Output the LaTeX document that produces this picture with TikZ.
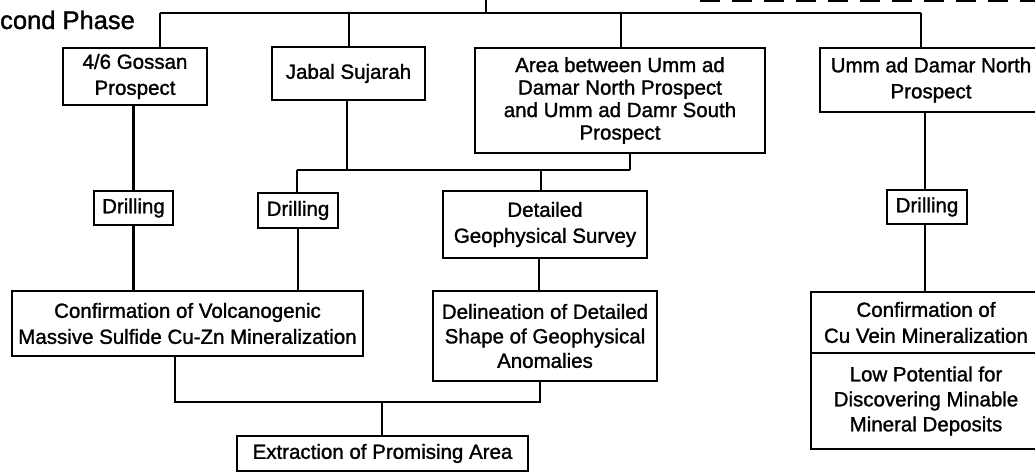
\documentclass[tikz,border=0pt]{standalone}
\usepackage{fontspec}
\setmainfont{Liberation Sans}[BoldFont=Liberation Sans, BoldFeatures={FakeBold=1.3}]
\begin{document}
\begin{tikzpicture}[x=1pt,y=-1pt,
  box/.style={draw, line width=2.7pt, inner sep=0pt, align=center, fill=white,
    font=\fontsize{20.5}{26}\selectfont\bfseries},
  conn/.style={line width=2.5pt},
  dashline/.style={line width=2.5pt, dash pattern=on 20pt off 12pt}]
\useasboundingbox (0,0) rectangle (1035,472);
\clip (0,0) rectangle (1035,472);
\fill[white] (0,0) rectangle (1035,472);

% title
\node[anchor=base west, inner sep=0pt, font=\fontsize{25.5}{25.5}\selectfont\bfseries] (phase) at (0,29) {cond Phase};

% first row
\node[box, minimum width=144pt, minimum height=57pt] (gossan) at (135,76.5) {4/6 Gossan\\Prospect};
\node[box, minimum width=153pt, minimum height=53pt] (jabal) at (348.5,73.5) {Jabal Sujarah};
\node[box, minimum width=290pt, minimum height=105pt, font=\fontsize{20.5}{22.5}\selectfont\bfseries] (area) at (620,100.5)
  {Area between Umm ad\\Damar North Prospect\\and Umm ad Damr South\\Prospect};
\node[box, minimum width=222pt, minimum height=64pt] (umn) at (931,80) {Umm ad Damar North\\Prospect};

% second row
\node[box, minimum width=79pt, minimum height=34pt] (dr1) at (133.5,208) {Drilling};
\node[box, minimum width=80pt, minimum height=35pt] (dr2) at (298,210.5) {Drilling};
\node[box, minimum width=204pt, minimum height=67pt] (det) at (545,224.5) {Detailed\\Geophysical Survey};
\node[box, minimum width=80pt, minimum height=34pt] (dr3) at (927,207) {Drilling};

% third row
\node[box, minimum width=351pt, minimum height=65pt] (conf) at (187.5,323.5)
  {Confirmation of Volcanogenic\\Massive Sulfide Cu-Zn Mineralization};
\node[box, minimum width=224pt, minimum height=90pt, font=\fontsize{20.5}{24.5}\selectfont\bfseries] (del) at (545,336)
  {Delineation of Detailed\\Shape of Geophysical\\Anomalies};
\node[box, minimum width=230pt, minimum height=61pt] (cu) at (926,322.5) {Confirmation of\\Cu Vein Mineralization};
\node[box, minimum width=230pt, minimum height=96pt, font=\fontsize{20.5}{25}\selectfont\bfseries] (low) at (926,401)
  {Low Potential for\\Discovering Minable\\Mineral Deposits};

% bottom
\node[box, minimum width=291pt, minimum height=35pt] (ext) at (382.5,453.5) {Extraction of Promising Area};

% top connectors
\coordinate (t0) at (486,0);
\coordinate (tb) at (486,13);
\coordinate (bL) at (160,13);
\coordinate (bJ) at (349,13);
\coordinate (bA) at (621,13);
\coordinate (bR) at (921,13);
\coordinate (d0) at (700,0.5);
\coordinate (d1) at (1040,0.5);
\draw[dashline] (d0) -- (d1);
\draw[conn] (t0) -- (tb);
\draw[conn] (bL) -- (bR);
\draw[conn] (bL) -- (bL |- gossan.north);
\draw[conn] (bJ) -- (bJ |- jabal.north);
\draw[conn] (bA) -- (bA |- area.north);
\draw[conn] (bR) -- (bR |- umn.north);

% left column
\draw[conn] (gossan.south -| dr1.north) -- (dr1.north);
\draw[conn] (dr1.south) -- (dr1.south |- conf.north);

% middle bus
\coordinate (m1) at (297,170);
\coordinate (mJ) at (347,170);
\coordinate (mD) at (541,170);
\coordinate (mA) at (630,170);
\draw[conn] (m1) -- (mA);
\draw[conn] (mJ |- jabal.south) -- (mJ);
\draw[conn] (mA |- area.south) -- (mA);
\draw[conn] (m1) -- (m1 |- dr2.north);
\draw[conn] (mD) -- (mD |- det.north);
\draw[conn] (dr2.south) -- (dr2.south |- conf.north);

\coordinate (dd) at (539,270);
\draw[conn] (dd |- det.south) -- (dd |- del.north);

% right column
\coordinate (rc) at (925,200);
\draw[conn] (rc |- umn.south) -- (rc |- dr3.north);
\draw[conn] (rc |- dr3.south) -- (rc |- cu.north);

% bottom bus
\coordinate (lb) at (175,402);
\coordinate (rb) at (540,402);
\coordinate (eb) at (382,402);
\draw[conn] (lb |- conf.south) -- (lb) -- (rb) -- (rb |- del.south);
\draw[conn] (eb) -- (eb |- ext.north);
\end{tikzpicture}
\end{document}
